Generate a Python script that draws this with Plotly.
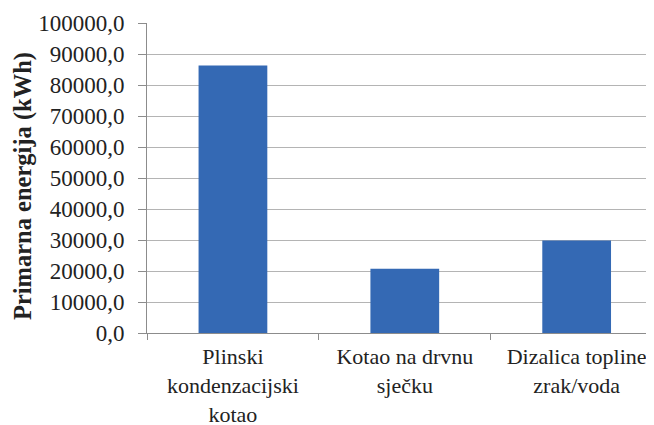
import plotly.graph_objects as go

# podaci procitani sa slike
kategorije = [
    "Plinski<br>kondenzacijski<br>kotao",
    "Kotao na drvnu<br>sječku",
    "Dizalica topline<br>zrak/voda",
]
primarna_energija = [86300.0, 20700.0, 29800.0]

y_naslov = "Primarna energija (kWh)"

serif = "Liberation Serif, Times New Roman, serif"

fig = go.Figure()

fig.add_trace(go.Bar(
    x=kategorije,
    y=primarna_energija,
    width=0.4,
    marker=dict(color='#3469b4', line=dict(width=0)),
    showlegend=False,
))

# stranica ima 8px margine, pa je figura manja od prozora
fig.update_layout(
    width=646,
    height=417,
    margin=dict(l=139, r=0, t=15, b=92),
    paper_bgcolor='white',
    plot_bgcolor='white',
    separators=',.',
    font=dict(family=serif, color='#222222'),
    xaxis=dict(
        type='category',
        range=[-0.5, 2.45],
        automargin=False,
        showline=True,
        linecolor='#8c8c8c',
        linewidth=1,
        ticks='outside',
        tickson='boundaries',
        ticklen=6,
        tickcolor='#8c8c8c',
        ticklabelstandoff=4,
        tickfont=dict(family=serif, size=22, color='#222222'),
        showgrid=False,
    ),
    yaxis=dict(
        range=[0, 100000],
        dtick=10000,
        tickformat='.1f',
        automargin=False,
        showline=True,
        linecolor='#8c8c8c',
        linewidth=1,
        ticks='outside',
        ticklen=8,
        tickcolor='#8c8c8c',
        ticklabelstandoff=9,
        showgrid=True,
        gridcolor='#b4b4b4',
        gridwidth=1,
        zeroline=False,
        tickfont=dict(family=serif, size=23, color='#222222'),
    ),
)

# naslov osi y
fig.add_annotation(
    text='<b>' + y_naslov + '</b>',
    textangle=-90,
    xref='paper', yref='paper',
    x=0, y=0.474,
    xanchor='center', yanchor='middle',
    xshift=-124,
    showarrow=False,
    font=dict(family=serif, size=24.5, color='#222222'),
)

fig.write_html("out.html")
